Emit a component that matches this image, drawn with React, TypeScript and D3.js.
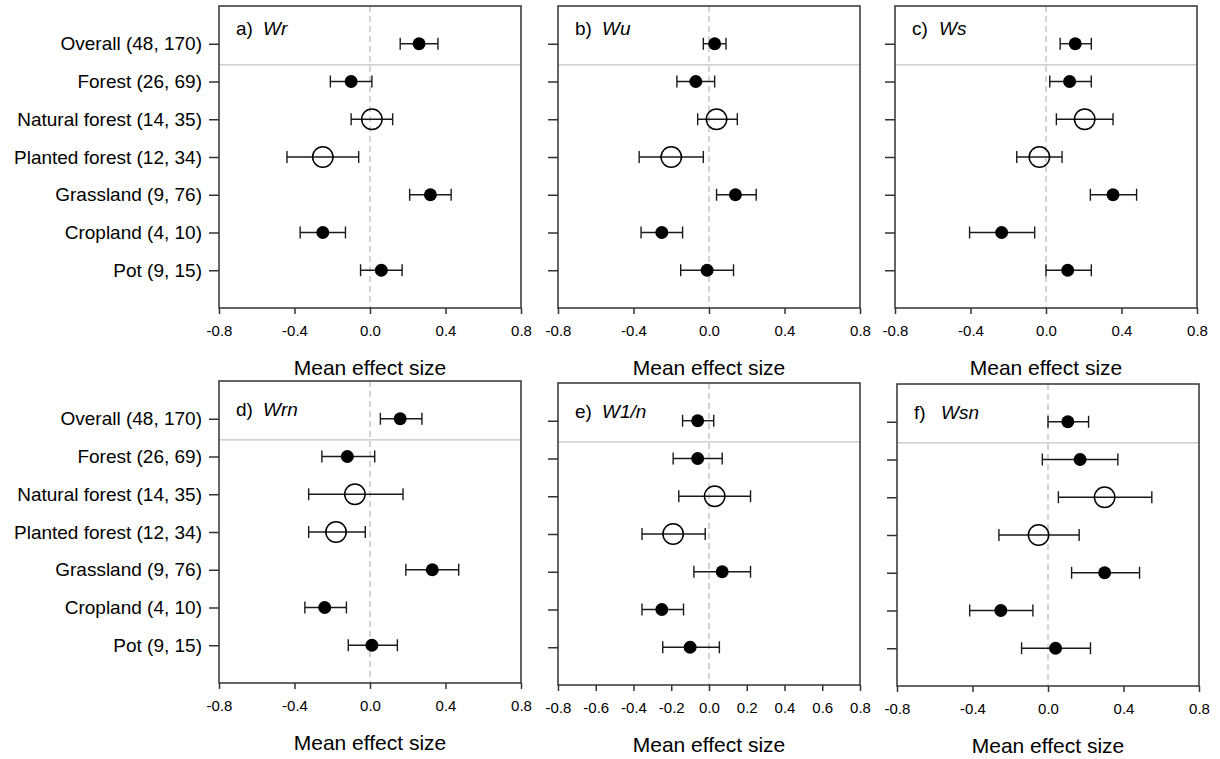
import { useEffect, useRef } from 'react';
import * as d3 from 'd3';

// Categories (study count, observation count)
const categories = [
  'Overall (48, 170)',
  'Forest (26, 69)',
  'Natural forest (14, 35)',
  'Planted forest (12, 34)',
  'Grassland (9, 76)',
  'Cropland (4, 10)',
  'Pot (9, 15)',
];
const openMarker = [false, false, true, true, false, false, false];

// Mean effect size and 95% CI for each panel
const wrMean = [0.26, -0.10, 0.01, -0.25, 0.32, -0.25, 0.06];
const wrLow = [0.16, -0.21, -0.10, -0.44, 0.21, -0.37, -0.05];
const wrHigh = [0.36, 0.01, 0.12, -0.06, 0.43, -0.13, 0.17];

const wuMean = [0.03, -0.07, 0.04, -0.20, 0.14, -0.25, -0.01];
const wuLow = [-0.03, -0.17, -0.06, -0.37, 0.04, -0.36, -0.15];
const wuHigh = [0.09, 0.03, 0.15, -0.03, 0.25, -0.14, 0.13];

const wsMean = [0.155, 0.125, 0.205, -0.035, 0.355, -0.235, 0.115];
const wsLow = [0.075, 0.02, 0.055, -0.155, 0.235, -0.405, 0.0];
const wsHigh = [0.24, 0.24, 0.355, 0.085, 0.48, -0.06, 0.24];

const wrnMean = [0.16, -0.12, -0.08, -0.18, 0.33, -0.24, 0.01];
const wrnLow = [0.055, -0.255, -0.325, -0.325, 0.19, -0.345, -0.115];
const wrnHigh = [0.275, 0.025, 0.175, -0.025, 0.47, -0.125, 0.145];

const w1nMean = [-0.06, -0.06, 0.03, -0.19, 0.07, -0.25, -0.10];
const w1nLow = [-0.14, -0.19, -0.16, -0.355, -0.08, -0.355, -0.245];
const w1nHigh = [0.025, 0.07, 0.22, -0.02, 0.22, -0.135, 0.055];

const wsnMean = [0.105, 0.17, 0.30, -0.05, 0.30, -0.25, 0.04];
const wsnLow = [0.0, -0.03, 0.055, -0.26, 0.125, -0.415, -0.14];
const wsnHigh = [0.215, 0.37, 0.55, 0.165, 0.485, -0.08, 0.225];

const ticksCoarse = [-0.8, -0.4, 0, 0.4, 0.8];
const ticksFine = [-0.8, -0.6, -0.4, -0.2, 0, 0.2, 0.4, 0.6, 0.8];

const xTitle = 'Mean effect size';
const FONT = '"Liberation Sans", Arial, sans-serif';

interface Panel {
  tag: string;
  name: string;
  mean: number[];
  low: number[];
  high: number[];
  ticks: number[];
  left: number;
  top: number;
  showLabels: boolean;
}

const panels: Panel[] = [
  { tag: 'a)', name: 'Wr', mean: wrMean, low: wrLow, high: wrHigh, ticks: ticksCoarse, left: 219, top: 6, showLabels: true },
  { tag: 'b)', name: 'Wu', mean: wuMean, low: wuLow, high: wuHigh, ticks: ticksCoarse, left: 558, top: 6, showLabels: false },
  { tag: 'c)', name: 'Ws', mean: wsMean, low: wsLow, high: wsHigh, ticks: ticksCoarse, left: 895, top: 6, showLabels: false },
  { tag: 'd)', name: 'Wrn', mean: wrnMean, low: wrnLow, high: wrnHigh, ticks: ticksCoarse, left: 219, top: 381, showLabels: true },
  { tag: 'e)', name: 'W1/n', mean: w1nMean, low: w1nLow, high: w1nHigh, ticks: ticksFine, left: 558, top: 383, showLabels: false },
  { tag: 'f)', name: 'Wsn', mean: wsnMean, low: wsnLow, high: wsnHigh, ticks: ticksCoarse, left: 897, top: 384, showLabels: false },
];

const App = () => {
  const ref = useRef<SVGSVGElement>(null);

  useEffect(() => {
    const svg = d3.select(ref.current);
    svg.selectAll('*').remove();
    const size = 302;
    const cap = 6;

    panels.forEach((p, pi) => {
      const g = svg.append('g').attr('transform', `translate(${p.left},${p.top})`);
      const x = d3.scaleLinear().domain([-0.8, 0.8]).range([0, size]);
      const y = d3.scaleLinear().domain([0, 8]).range([0, size]);
      const rows = categories.map((c, i) => ({
        c, i, mean: p.mean[i], low: p.low[i], high: p.high[i], open: openMarker[i],
      }));

      // zero reference line
      g.append('line')
        .attr('x1', x(0)).attr('x2', x(0))
        .attr('y1', 0).attr('y2', size)
        .attr('stroke', '#b8b8b8')
        .attr('stroke-width', 1.2)
        .attr('stroke-dasharray', '6,4');

      // separator under Overall
      g.append('line')
        .attr('x1', 0).attr('x2', size)
        .attr('y1', y(1.56)).attr('y2', y(1.56))
        .attr('stroke', '#c4c4c4')
        .attr('stroke-width', 1.2);

      // error bars
      const bars = g.selectAll('.bar').data(rows).enter().append('g').attr('class', 'bar');
      bars.append('line')
        .attr('x1', d => x(d.low)).attr('x2', d => x(d.high))
        .attr('y1', d => y(d.i + 1)).attr('y2', d => y(d.i + 1))
        .attr('stroke', '#1a1a1a').attr('stroke-width', 1.4);
      bars.append('line')
        .attr('x1', d => x(d.low)).attr('x2', d => x(d.low))
        .attr('y1', d => y(d.i + 1) - cap).attr('y2', d => y(d.i + 1) + cap)
        .attr('stroke', '#1a1a1a').attr('stroke-width', 1.4);
      bars.append('line')
        .attr('x1', d => x(d.high)).attr('x2', d => x(d.high))
        .attr('y1', d => y(d.i + 1) - cap).attr('y2', d => y(d.i + 1) + cap)
        .attr('stroke', '#1a1a1a').attr('stroke-width', 1.4);

      // markers
      g.selectAll('.pt').data(rows).enter().append('circle')
        .attr('class', 'pt')
        .attr('cx', d => x(d.mean))
        .attr('cy', d => y(d.i + 1))
        .attr('r', d => (d.open ? 10.2 : 6.5))
        .attr('fill', d => (d.open ? 'none' : '#000'))
        .attr('stroke', '#000')
        .attr('stroke-width', d => (d.open ? 1.5 : 0));

      // x axis
      const xAxis = g.append('g')
        .attr('transform', `translate(0,${size})`)
        .call(d3.axisBottom(x).tickValues(p.ticks).tickSize(6).tickPadding(11)
          .tickFormat(d => (+d).toFixed(1)));
      xAxis.select('.domain').remove();
      xAxis.selectAll('line').attr('stroke', '#333').attr('stroke-width', 1.5);
      xAxis.selectAll('text').attr('font-size', 15).attr('font-family', FONT).attr('fill', '#000');

      // y axis
      const yAxis = g.append('g')
        .call(d3.axisLeft(y).tickValues(d3.range(1, 8)).tickSize(10).tickPadding(7)
          .tickFormat(d => (p.showLabels ? categories[+d - 1] : '')));
      yAxis.select('.domain').remove();
      yAxis.selectAll('line').attr('stroke', '#333').attr('stroke-width', 1.5);
      yAxis.selectAll('text').attr('font-size', 19).attr('font-family', FONT).attr('fill', '#000');

      // frame
      g.append('rect')
        .attr('x', 0).attr('y', 0).attr('width', size).attr('height', size)
        .attr('fill', 'none').attr('stroke', '#333').attr('stroke-width', 1.5);

      // panel label
      const labelY = pi < 3 ? 29 : 35;
      g.append('text')
        .attr('x', 17).attr('y', labelY)
        .attr('font-size', 19).attr('font-family', FONT)
        .text(p.tag);
      g.append('text')
        .attr('x', 44).attr('y', labelY)
        .attr('font-size', 19).attr('font-family', FONT).attr('font-style', 'italic')
        .text(p.name);

      // axis title
      g.append('text')
        .attr('x', size / 2).attr('y', size + 67)
        .attr('text-anchor', 'middle')
        .attr('font-size', 21).attr('font-family', FONT)
        .text(xTitle);
    });
  }, []);

  return (
    <div>
      <svg ref={ref} width={1220} height={759}
        style={{ position: 'absolute', left: 0, top: 0, background: '#fff' }} />
    </div>
  );
};

export default App;
